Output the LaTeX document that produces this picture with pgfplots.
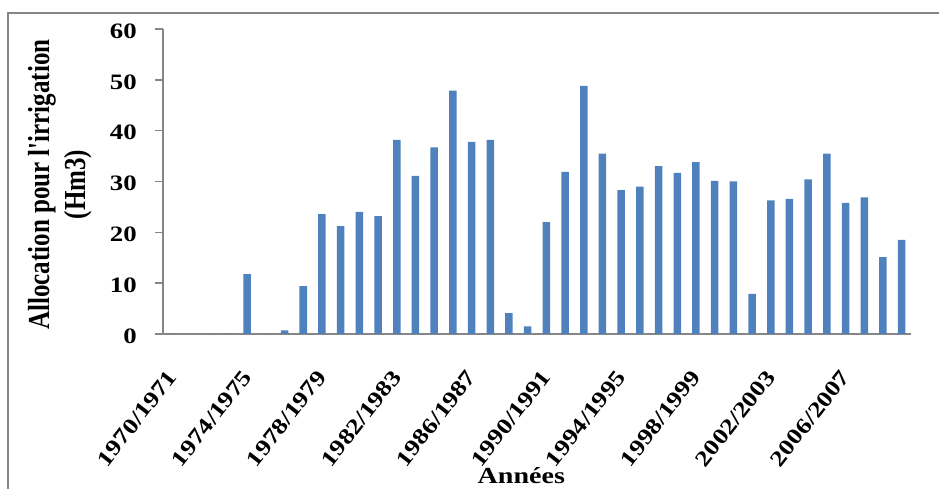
\documentclass[border=0pt]{standalone}
\usepackage{fontspec}
\setmainfont{Liberation Serif}[FakeStretch=1.22]
\newfontfamily\plainserif{Liberation Serif}
\usepackage{graphicx}
\usepackage{pgfplots}
\usepackage{pgfplotstable}
\pgfplotsset{compat=1.18}
\definecolor{barblue}{HTML}{4F81BD}
\definecolor{axgray}{HTML}{868686}
\pgfplotstableread{
idx val
0 0
1 0
2 0
3 0
4 11.8
5 0
6 0.7
7 9.4
8 23.6
9 21.2
10 24.0
11 23.2
12 38.2
13 31.1
14 36.7
15 47.9
16 37.8
17 38.2
18 4.1
19 1.5
20 22.0
21 31.9
22 48.8
23 35.5
24 28.3
25 29.0
26 33.0
27 31.7
28 33.8
29 30.1
30 30.0
31 7.9
32 26.3
33 26.6
34 30.4
35 35.5
36 25.8
37 26.9
38 15.1
39 18.5
}\datatable
\begin{document}
\begin{tikzpicture}
\path[use as bounding box] (-163pt,-155pt) rectangle (776pt,334pt);
\begin{axis}[
  scale only axis,
  width=748pt, height=305pt,
  xmin=-0.5, xmax=39.5,
  ymin=0, ymax=60,
  ytick={0,10,...,60},
  xtick={0,4,...,36},
  xticklabels={1970/1971,1974/1975,1978/1979,1982/1983,1986/1987,1990/1991,1994/1995,1998/1999,2002/2003,2006/2007},
  axis x line*=bottom,
  axis y line*=left,
  axis line style={draw=axgray, line width=1.6pt},
  x axis line style={shorten <=-8pt},
  major tick length=8pt,
  tick align=outside,
  xtick style={draw=none},
  ytick style={draw=axgray, line width=1.6pt},
  /pgf/number format/assume math mode=true,
  yticklabel style={font=\fontsize{22}{24}\selectfont\bfseries, anchor=east, inner sep=0pt, xshift=-18pt, yshift=-2pt},
  xticklabel style={font=\fontsize{22}{24}\selectfont\bfseries, anchor=east, inner sep=0pt, yshift=-31pt, xshift=0pt, rotate=52},
  ylabel={\scalebox{1}[1.22]{\plainserif\bfseries\fontsize{25}{29.5}\selectfont\begin{tabular}{@{}c@{}}Allocation pour l'irrigation\\(Hm3)\end{tabular}}},
  every axis y label/.style={at={(axis description cs:-0.1377,0.49)}, rotate=90, anchor=center},
  xlabel={Années},
  every axis x label/.style={at={(axis description cs:0.479,-0.465)}, anchor=center, font=\fontsize{23}{26}\selectfont\bfseries},
  ybar, bar width=7.5pt,
  clip=false,
]
\addplot[fill=barblue, draw=none] table[x=idx, y=val] {\datatable};
\end{axis}
\draw[color=axgray, line width=2pt] (-155pt,-156pt) -- (-155pt,321pt) -- (777pt,321pt);
\end{tikzpicture}
\end{document}
